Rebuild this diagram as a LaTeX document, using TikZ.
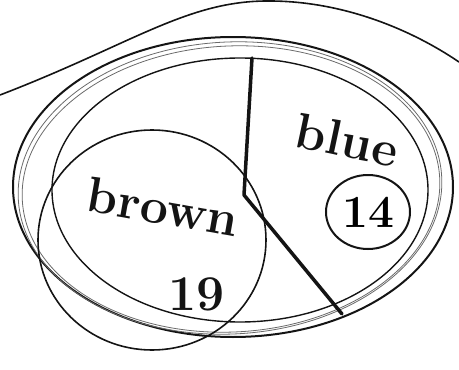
\documentclass[tikz,border=0pt]{standalone}
\usepackage{tikz}
\usetikzlibrary{shapes.geometric}
\definecolor{InkDark}{HTML}{141414}
\definecolor{InkGrey}{HTML}{6A6A6A}
\begin{document}
\begin{tikzpicture}[x=1pt,y=-1pt,
  ink/.style={draw=InkDark,line width=2pt,line cap=round},
  faint/.style={draw=InkGrey,line width=0.8pt},
  bar/.style={draw=InkDark,line width=3.5pt,line cap=round,line join=round},
  word/.style={font=\fontsize{50}{50}\selectfont\bfseries,text=InkDark,inner sep=0pt},
  tally/.style={ellipse,draw=InkDark,line width=2pt,minimum width=84pt,minimum height=74pt,font=\fontsize{46}{46}\selectfont\bfseries,inner sep=0pt}
]
\useasboundingbox (0,0) rectangle (459,370);
% sky line
\coordinate (skyLeft) at (0,95);
\coordinate (skyPeak) at (265,1);
\coordinate (skyRight) at (459,62);
\draw[ink,line width=1.6pt] (skyLeft) .. controls (130,45) and (185,2) .. (skyPeak)
  .. controls (345,0) and (415,32) .. (skyRight);
% big sets
\draw[ink] (233,187) ellipse[x radius=220,y radius=150];
\draw[faint] (230,188) ellipse[x radius=212,y radius=146,rotate=3];
\draw[faint] (231,189) ellipse[x radius=209,y radius=143,rotate=3];
\draw[ink,line width=1.4pt] (240,190) ellipse[x radius=188,y radius=132];
% brown set
\draw[ink,line width=1.6pt] (152,240) ellipse[x radius=114,y radius=110];
% split
\coordinate (splitTop) at (252,58);
\coordinate (splitMid) at (244,195);
\coordinate (splitEnd) at (342,314);
\draw[bar] (splitTop) -- (splitMid) -- (splitEnd);
% labels
\node[word,rotate=-10] (brownName) at (163,207) {brown};
\node[word] (brownNum) at (197,294) {19};
\node[word,rotate=-12] (blueName) at (347,140) {blue};
\node[tally] (blueNum) at (368,212) {14};
\end{tikzpicture}
\end{document}
